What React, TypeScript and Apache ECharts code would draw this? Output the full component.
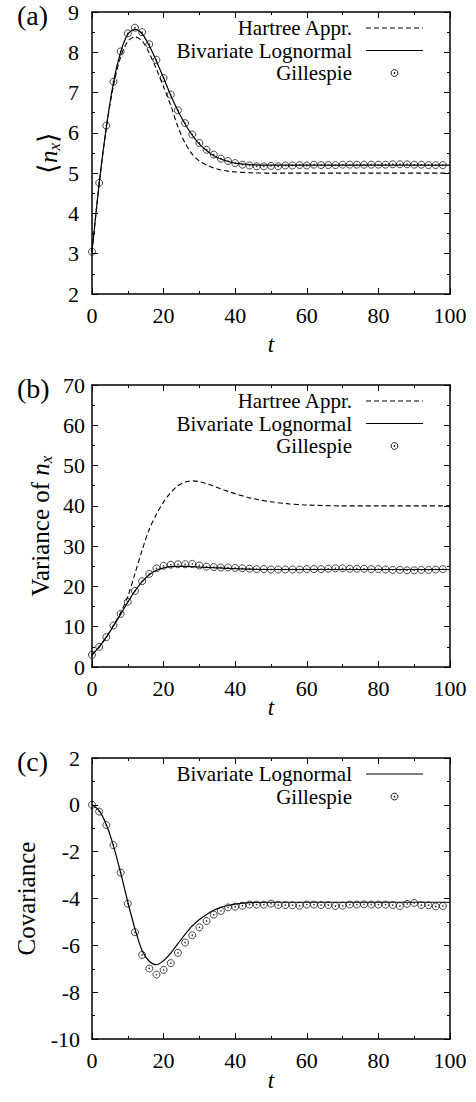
import { useEffect, useRef } from "react";
import * as echarts from "echarts";

// ---------- data ----------
const gilT = [0, 2, 4, 6, 8, 10, 12, 14, 16, 18, 20, 22, 24, 26, 28, 30, 32, 34, 36, 38, 40, 42, 44, 46, 48, 50, 52, 54, 56, 58, 60, 62, 64, 66, 68, 70, 72, 74, 76, 78, 80, 82, 84, 86, 88, 90, 92, 94, 96, 98];

const gilMean = [3.05, 4.76, 6.18, 7.27, 8.02, 8.47, 8.61, 8.5, 8.2, 7.81, 7.36, 6.95, 6.56, 6.24, 5.96, 5.75, 5.58, 5.46, 5.36, 5.3, 5.25, 5.21, 5.19, 5.17, 5.17, 5.18, 5.17, 5.19, 5.19, 5.2, 5.19, 5.21, 5.2, 5.2, 5.2, 5.21, 5.21, 5.21, 5.21, 5.21, 5.21, 5.21, 5.22, 5.22, 5.22, 5.21, 5.21, 5.2, 5.2, 5.2];
const gilVar = [3.0, 5.0, 7.4, 10.3, 13.2, 16.2, 18.9, 21.3, 23.1, 24.5, 25.1, 25.4, 25.5, 25.5, 25.6, 25.2, 24.9, 24.8, 24.7, 24.7, 24.6, 24.5, 24.4, 24.3, 24.3, 24.2, 24.2, 24.2, 24.2, 24.2, 24.3, 24.3, 24.3, 24.4, 24.5, 24.5, 24.4, 24.4, 24.4, 24.3, 24.3, 24.2, 24.1, 24.1, 24.0, 24.0, 24.1, 24.1, 24.2, 24.3];
const gilCov = [0.0, -0.29, -0.86, -1.72, -2.9, -4.22, -5.44, -6.41, -6.99, -7.25, -7.05, -6.76, -6.32, -5.88, -5.57, -5.23, -4.96, -4.69, -4.53, -4.38, -4.35, -4.31, -4.26, -4.26, -4.26, -4.22, -4.28, -4.28, -4.29, -4.31, -4.26, -4.26, -4.28, -4.28, -4.32, -4.31, -4.26, -4.26, -4.25, -4.26, -4.26, -4.26, -4.28, -4.32, -4.23, -4.19, -4.28, -4.29, -4.34, -4.32];

const meanT = [0, 2, 4, 6, 8, 10, 12, 14, 16, 18, 20, 22, 24, 26, 28, 30, 32, 34, 36, 38, 40, 44, 50, 60, 80, 100];
const bivMean = [3.05, 4.74, 6.14, 7.25, 8.0, 8.45, 8.57, 8.46, 8.16, 7.78, 7.36, 6.93, 6.55, 6.22, 5.94, 5.72, 5.56, 5.43, 5.35, 5.29, 5.25, 5.21, 5.2, 5.2, 5.2, 5.2];
const hartMean = [3.05, 4.72, 6.12, 7.18, 7.88, 8.27, 8.38, 8.28, 7.98, 7.58, 7.14, 6.68, 6.15, 5.75, 5.47, 5.3, 5.2, 5.13, 5.08, 5.05, 5.03, 5.01, 5.0, 5.0, 5.0, 5.0];

const bivVarT = [0, 2, 4, 6, 8, 10, 12, 14, 16, 18, 20, 22, 24, 26, 28, 30, 35, 40, 50, 60, 80, 100];
const bivVar = [3.0, 5.0, 7.4, 10.2, 13.1, 16.1, 18.9, 21.2, 22.9, 24.0, 24.6, 24.9, 25.0, 25.0, 24.9, 24.8, 24.6, 24.4, 24.2, 24.2, 24.2, 24.2];
const hartVarT = [0, 2, 4, 6, 8, 10, 12, 14, 16, 18, 20, 22, 24, 26, 28, 30, 32, 34, 36, 38, 40, 45, 50, 55, 60, 70, 80, 100];
const hartVar = [3.0, 5.0, 7.4, 10.3, 13.5, 17.5, 23.2, 29.0, 34.2, 37.9, 41.0, 43.3, 45.0, 45.9, 46.2, 46.0, 45.5, 44.9, 44.2, 43.6, 43.0, 41.8, 41.0, 40.5, 40.2, 40.0, 40.0, 40.0];

const covT = [0, 2, 4, 6, 8, 10, 12, 14, 16, 18, 20, 22, 24, 26, 28, 30, 32, 34, 36, 38, 40, 44, 50, 60, 80, 100];
const bivCov = [0, -0.25, -0.85, -1.75, -2.9, -4.15, -5.3, -6.22, -6.68, -6.83, -6.65, -6.33, -5.93, -5.53, -5.17, -4.9, -4.68, -4.5, -4.38, -4.3, -4.24, -4.18, -4.16, -4.16, -4.16, -4.16];

const legendHartree = "Hartree Appr.";
const legendBiv = "Bivariate Lognormal";
const legendGil = "Gillespie";

// ---------- styling ----------
const FONT = "Liberation Serif, Times New Roman, serif";
const PLOT_LEFT = 92;
const PLOT_W = 358;

const pair = (xs: number[], ys: number[]) => xs.map((x, i) => [x, ys[i]]);

type Panel = {
  top: number;
  height: number;
  yMin: number;
  yMax: number;
  yInt: number;
  yLabelMargin: number;
  yName: string;
  yNameGap: number;
  yRich: any;
  xNameGap: number;
  tag: string;
  hart?: number[][];
  biv: number[][];
  gil: number[][];
};

const panels: Panel[] = [
  {
    top: 12, height: 282, yMin: 2, yMax: 9, yInt: 1, yLabelMargin: 13,
    yName: "{a|\u27E8}{n|n}{s|x}{a|\u27E9}", yNameGap: 29,
    yRich: {
      a: { fontFamily: FONT, fontSize: 27, lineHeight: 30, color: "#000" },
      n: { fontFamily: FONT, fontSize: 25, fontStyle: "italic", lineHeight: 30, color: "#000" },
      s: { fontFamily: FONT, fontSize: 17, fontStyle: "italic", lineHeight: 14, verticalAlign: "bottom", color: "#000" },
    },
    xNameGap: 39, tag: "(a)",
    hart: pair(meanT, hartMean), biv: pair(meanT, bivMean), gil: pair(gilT, gilMean),
  },
  {
    top: 385, height: 282, yMin: 0, yMax: 70, yInt: 10, yLabelMargin: 7,
    yName: "{r|Variance of }{n|n}{s|x}", yNameGap: 37,
    yRich: {
      r: { fontFamily: FONT, fontSize: 25, lineHeight: 30, color: "#000" },
      n: { fontFamily: FONT, fontSize: 25, fontStyle: "italic", lineHeight: 30, color: "#000" },
      s: { fontFamily: FONT, fontSize: 17, fontStyle: "italic", lineHeight: 14, verticalAlign: "bottom", color: "#000" },
    },
    xNameGap: 28.5, tag: "(b)",
    hart: pair(hartVarT, hartVar), biv: pair(bivVarT, bivVar), gil: pair(gilT, gilVar),
  },
  {
    top: 758, height: 281, yMin: -10, yMax: 2, yInt: 2, yLabelMargin: 12,
    yName: "{r|Covariance}", yNameGap: 52,
    yRich: {
      r: { fontFamily: FONT, fontSize: 25, lineHeight: 28, color: "#000" },
    },
    xNameGap: 29.5, tag: "(c)",
    biv: pair(covT, bivCov), gil: pair(gilT, gilCov),
  },
];

const axisLine = { show: true, onZero: false, lineStyle: { color: "#000", width: 1.5 } };
const tick = { show: true, inside: true, length: 6, lineStyle: { color: "#000", width: 1 } };
const minor = { show: true, splitNumber: 2, length: 3, lineStyle: { color: "#000", width: 1 } };

export default function App() {
  const ref = useRef<HTMLDivElement>(null);

  useEffect(() => {
    if (!ref.current) return;
    const chart = echarts.init(ref.current, undefined, { renderer: "svg" });

    const grid: any[] = [];
    const xAxis: any[] = [];
    const yAxis: any[] = [];
    const series: any[] = [];
    const graphic: any[] = [];

    panels.forEach((p, i) => {
      grid.push({ left: PLOT_LEFT, top: p.top, width: PLOT_W, height: p.height, containLabel: false });
      xAxis.push({
        type: "value", gridIndex: i, position: "bottom", min: 0, max: 100, interval: 20,
        axisLine, axisTick: tick, minorTick: minor, splitLine: { show: false },
        axisLabel: { color: "#000", fontFamily: FONT, fontSize: 22, margin: 10 },
        name: "t", nameLocation: "middle", nameGap: p.xNameGap, nameMoveOverlap: false,
        nameTextStyle: { color: "#000", fontFamily: FONT, fontSize: 23, fontStyle: "italic" },
      });
      xAxis.push({
        type: "value", gridIndex: i, position: "top", min: 0, max: 100, interval: 20,
        axisLine, axisTick: tick, minorTick: minor, splitLine: { show: false },
        axisLabel: { show: false },
      });
      yAxis.push({
        type: "value", gridIndex: i, position: "left", min: p.yMin, max: p.yMax, interval: p.yInt,
        axisLine, axisTick: tick, minorTick: minor, splitLine: { show: false },
        axisLabel: { color: "#000", fontFamily: FONT, fontSize: 22, margin: p.yLabelMargin },
        name: p.yName, nameLocation: "middle", nameRotate: 90, nameGap: p.yNameGap, nameMoveOverlap: false,
        nameTextStyle: { color: "#000", fontFamily: FONT, fontSize: 25, rich: p.yRich },
      });
      yAxis.push({
        type: "value", gridIndex: i, position: "right", min: p.yMin, max: p.yMax, interval: p.yInt,
        axisLine, axisTick: tick, minorTick: minor, splitLine: { show: false },
        axisLabel: { show: false },
      });

      const xi = i * 2;
      const yi = i * 2;
      if (p.hart) {
        series.push({
          name: legendHartree, type: "line", xAxisIndex: xi, yAxisIndex: yi, data: p.hart,
          smooth: 0.3, symbol: "none", silent: true,
          lineStyle: { color: "#000", width: 1.1, type: [5, 3] }, z: 2,
        });
      }
      series.push({
        name: legendBiv, type: "line", xAxisIndex: xi, yAxisIndex: yi, data: p.biv,
        smooth: 0.3, symbol: "none", silent: true,
        lineStyle: { color: "#000", width: 1.2 }, z: 2,
      });
      series.push({
        name: legendGil, type: "scatter", xAxisIndex: xi, yAxisIndex: yi, data: p.gil,
        symbol: "circle", symbolSize: 7, silent: true,
        itemStyle: { color: "rgba(0,0,0,0)", borderColor: "#000", borderWidth: 0.9 }, z: 3,
      });
      series.push({
        name: legendGil + " center", type: "scatter", xAxisIndex: xi, yAxisIndex: yi, data: p.gil,
        symbol: "circle", symbolSize: 1.6, silent: true,
        itemStyle: { color: "#000" }, z: 4,
      });

      // panel tag
      graphic.push({
        type: "text", x: 17, y: p.top + 3, silent: true,
        style: {
          text: p.tag, fill: "#000", fontFamily: FONT, fontSize: 28,
          align: "left", textAlign: "left", verticalAlign: "middle", textVerticalAlign: "middle",
        },
      });

      // legend (gnuplot style, key at top right)
      const rows: { label: string; kind: string }[] = [];
      if (p.hart) rows.push({ label: legendHartree, kind: "dash" });
      rows.push({ label: legendBiv, kind: "solid" });
      rows.push({ label: legendGil, kind: "point" });
      rows.forEach((r, k) => {
        const y = p.top + 16 + k * 22.5;
        graphic.push({
          type: "text", x: 352, y, silent: true,
          style: {
            text: r.label, fill: "#000", fontFamily: FONT, fontSize: 21,
            align: "right", textAlign: "right", verticalAlign: "middle", textVerticalAlign: "middle",
          },
        });
        if (r.kind === "point") {
          graphic.push({
            type: "circle", silent: true, shape: { cx: 394.5, cy: y, r: 3.4 },
            style: { fill: "none", stroke: "#000", lineWidth: 0.9 },
          });
          graphic.push({
            type: "circle", silent: true, shape: { cx: 394.5, cy: y, r: 0.8 },
            style: { fill: "#000" },
          });
        } else {
          graphic.push({
            type: "line", silent: true, shape: { x1: 366, y1: y, x2: 423, y2: y },
            style: { stroke: "#000", lineWidth: 1.1, lineDash: r.kind === "dash" ? [5, 3] : null },
          });
        }
      });
    });

    chart.setOption({
      animation: false,
      backgroundColor: "#fff",
      textStyle: { fontFamily: FONT },
      grid,
      xAxis,
      yAxis,
      series,
      graphic,
    });

    return () => chart.dispose();
  }, []);

  return (
    <div
      ref={ref}
      style={{ position: "absolute", left: 0, top: 0, width: 476, height: 1102, background: "#fff" }}
    />
  );
}
